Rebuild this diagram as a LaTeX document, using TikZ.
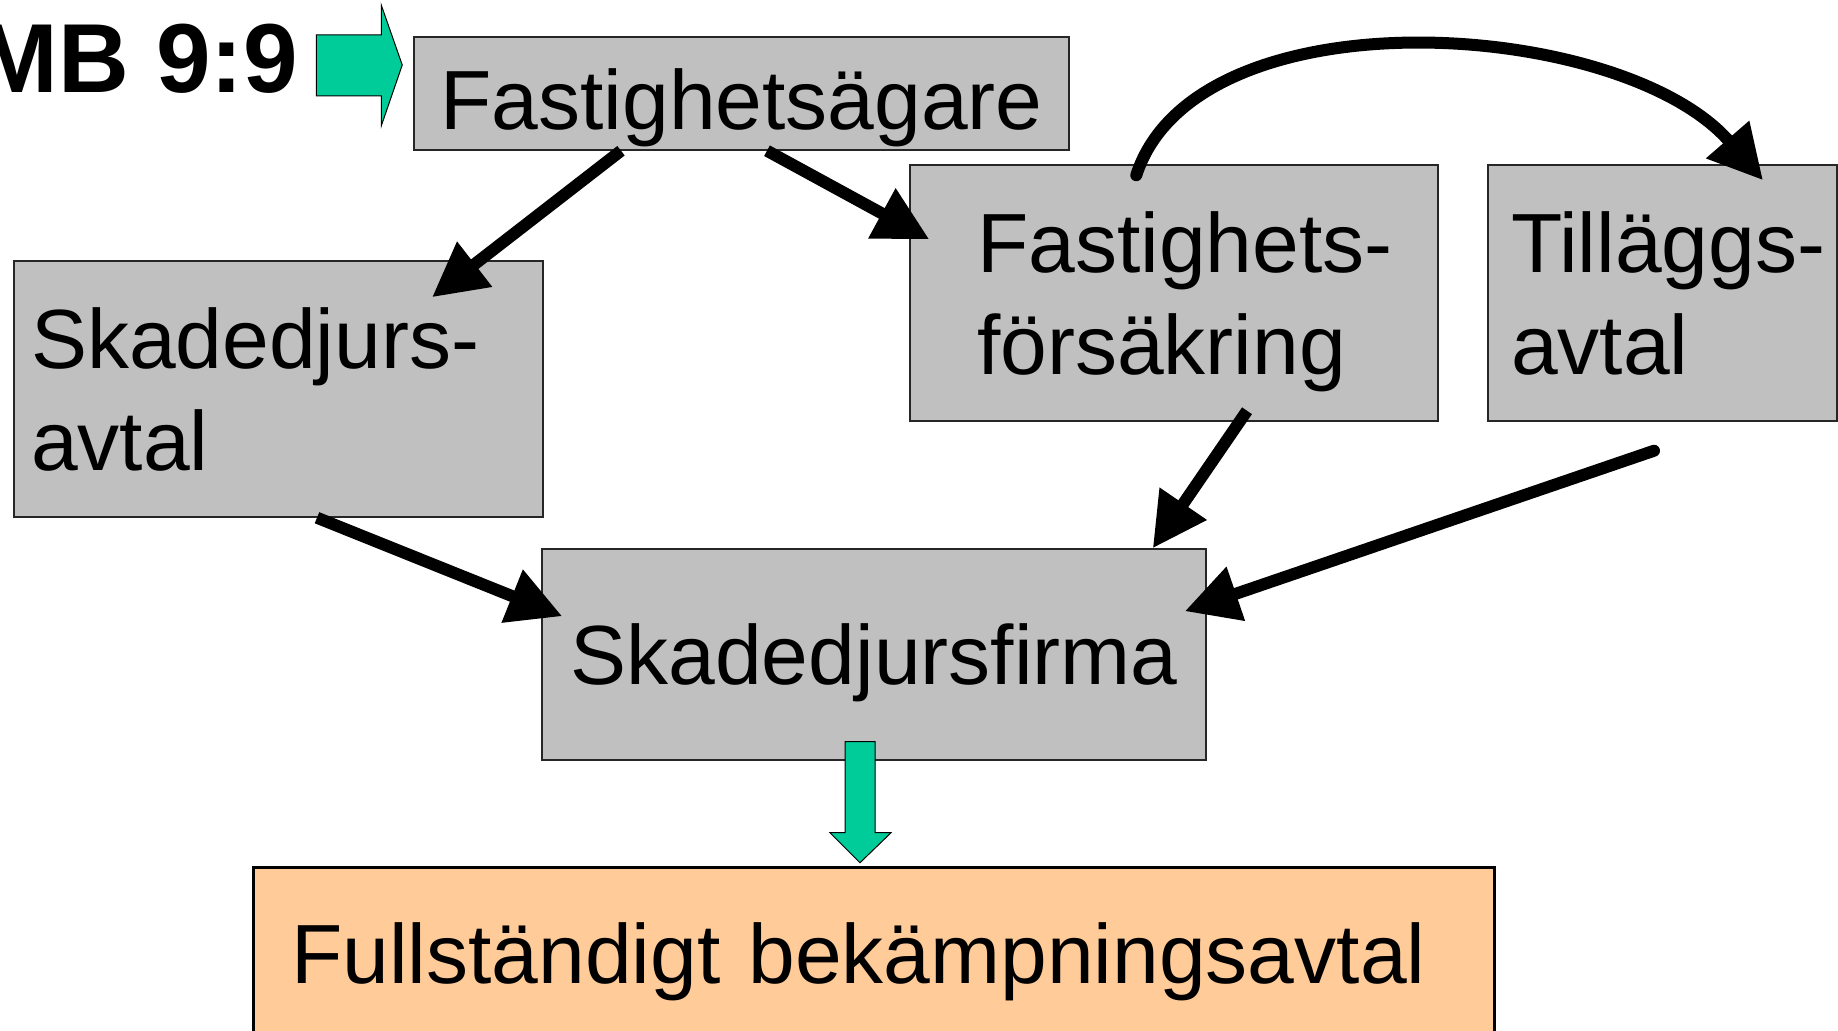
\documentclass[tikz,border=0pt]{standalone}
\usepackage{fontspec}
\setmainfont{Liberation Sans}
\usetikzlibrary{arrows.meta}
\definecolor{rutgra}{HTML}{C0C0C0}
\definecolor{pilgron}{HTML}{00CC99}
\definecolor{persika}{HTML}{FFCC99}

\begin{document}
\begin{tikzpicture}[
		ruta/.style={draw=black!85, line width=0.015cm, fill=rutgra, inner sep=0pt, align=left, text depth=0pt, font=\fontsize{23.9pt}{28.9pt}\selectfont},
		tvarad/.style={text depth=28.9pt},
		pil/.style={line width=0.12cm, -{Triangle[length=0.54cm, width=0.54cm]}},
		grnpil/.style={draw=black, line width=0.01cm, fill=pilgron}]
		\useasboundingbox (0, 0) rectangle (18.38, 10.30);
		
		\node[anchor=base east, inner sep=0pt, font=\fontsize{27.9pt}{33pt}\selectfont\bfseries] (mb) at (2.99, 9.37) {MB 9:9};
		
		\node[ruta, text height=0.72cm, minimum width=6.55cm, minimum height=1.13cm] (agare) at (7.415, 9.365) {Fastighetsägare};
		\node[ruta, tvarad, text width=4.95cm, minimum width=5.29cm, minimum height=2.56cm] (skadeavtal) at (2.785, 6.41) {Skadedjurs-\\avtal};
		\node[ruta, tvarad, text width=3.94cm, minimum width=5.28cm, minimum height=2.56cm] (forsakring) at (11.74, 7.37) {\mbox{Fastighets-}\\försäkring};
		\node[ruta, tvarad, text width=3.03cm, minimum width=3.49cm, minimum height=2.56cm] (tillagg) at (16.625, 7.37) {\mbox{Tilläggs-}\\avtal};
		\node[ruta, minimum width=6.64cm, minimum height=2.11cm] (firma) at (8.74, 3.755) {Skadedjursfirma};
		\node[ruta, fill=persika, draw=black, line width=0.03cm, text width=11.65cm, minimum width=12.41cm, minimum height=1.70cm] (fullavtal) at (8.735, 0.77) {Fullständigt bekämpningsavtal};
		
		\draw[grnpil] ([xshift=-0.97cm, yshift=0.585cm]agare.west) -- ++(0.65, 0) -- ++(0, 0.30) -- ++(0.21, -0.60) -- ++(-0.21, -0.61) -- ++(0, 0.30) -- ++(-0.65, 0) -- cycle;
		
		\draw[pil] ([xshift=-1.205cm]agare.south) -- ([xshift=1.535cm, yshift=-0.37cm]skadeavtal.north);
		\draw[pil] ([xshift=0.255cm]agare.south) -- ([xshift=0.20cm, yshift=-0.75cm]forsakring.north west);
		\draw[pil] ([xshift=0.385cm]skadeavtal.south) -- ([xshift=0.21cm, yshift=-0.68cm]firma.north west);
		\draw[pil] ([xshift=0.73cm, yshift=0.11cm]forsakring.south) -- ([xshift=-0.54cm]firma.north east);
		\draw[pil, line cap=round] ([xshift=-0.085cm, yshift=-0.29cm]tillagg.south) -- ([xshift=-0.22cm, yshift=-0.63cm]firma.north east);
		\draw[pil, line cap=round] ([xshift=2.27cm, yshift=-0.11cm]forsakring.north west) .. controls +(72:1.95) and +(131:2.15) .. ([xshift=1.005cm, yshift=-0.16cm]tillagg.north);
		
		\draw[grnpil] ([xshift=-0.29cm, yshift=0.19cm]firma.south) -- ++(0.30, 0) -- ++(0, -0.91) -- ++(0.16, 0) -- ++(-0.31, -0.30) -- ++(-0.30, 0.30) -- ++(0.15, 0) -- cycle;
	\end{tikzpicture}
\end{document}
